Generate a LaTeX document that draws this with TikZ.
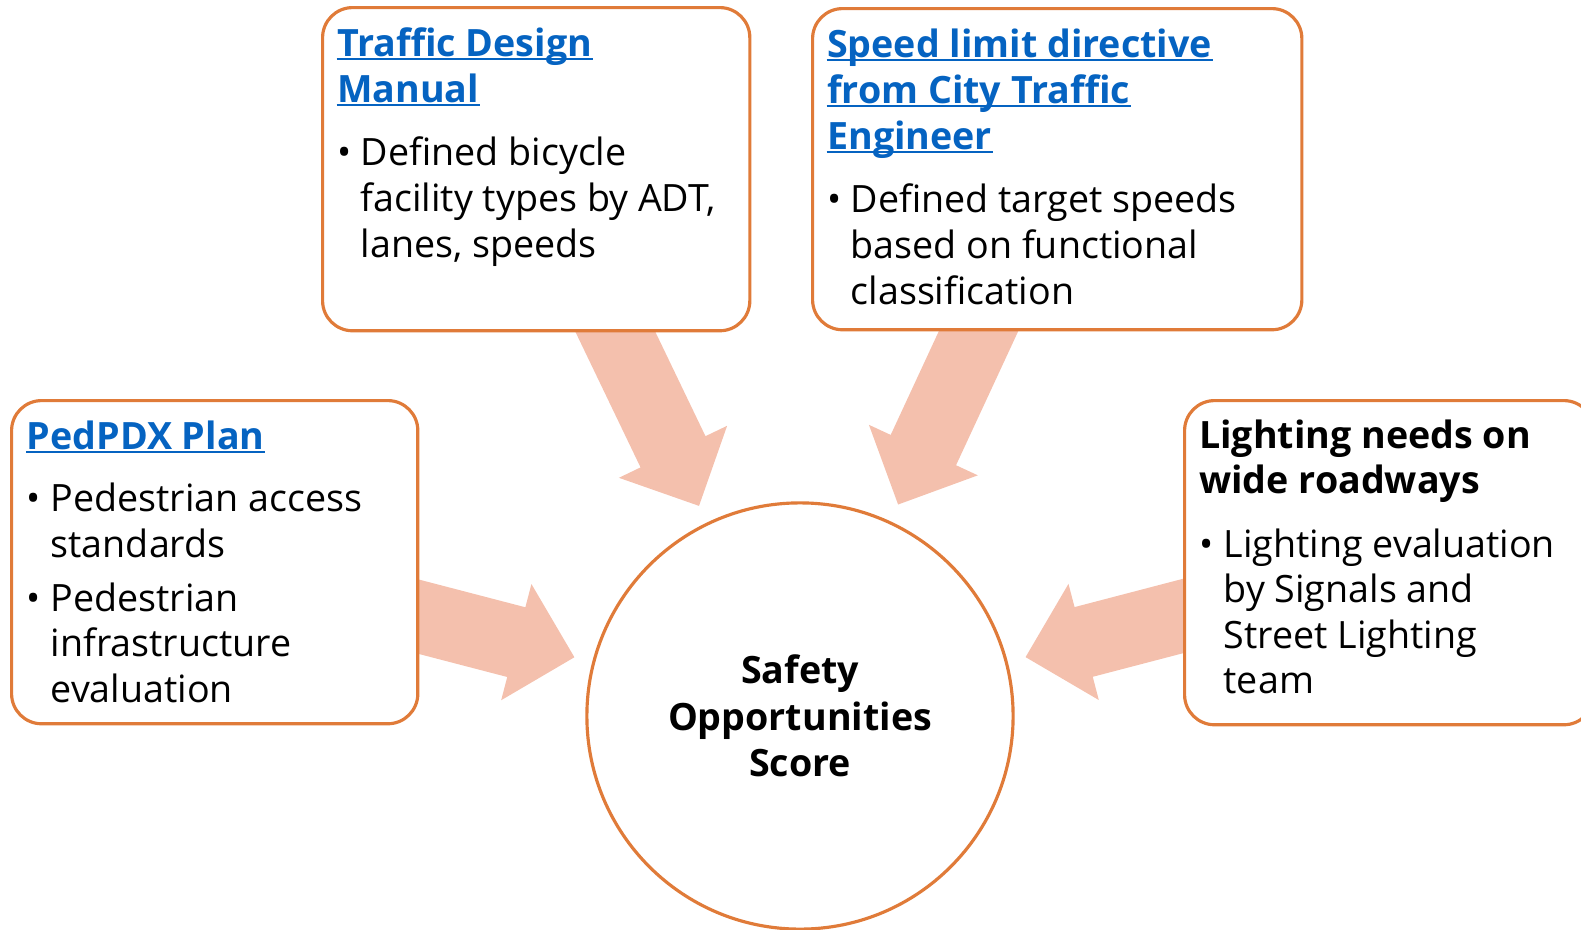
\documentclass[tikz,border=0pt]{standalone}
\usepackage{fontspec}
\setmainfont{Open Sans}
\usetikzlibrary{calc}
\definecolor{boxorange}{HTML}{E07B39}
\definecolor{arrowpink}{HTML}{F4C0AD}
\definecolor{linkblue}{HTML}{0563C1}
% fat arrow: #1 = point on the box edge, #2 = tip
\newcommand{\fatarrow}[2]{%
  \coordinate (tl) at ($(#1)!-0.3cm!(#2)$);
  \coordinate (hd) at ($(#2)!0.6cm!(#1)$);
  \fill[arrowpink] ($(tl)!0.36cm!90:(#2)$) -- ($(hd)!0.36cm!90:(#2)$) -- ($(hd)!0.6cm!90:(#2)$) -- (#2)
    -- ($(hd)!0.6cm!-90:(#2)$) -- ($(hd)!0.36cm!-90:(#2)$) -- ($(tl)!0.36cm!-90:(#2)$) -- cycle;}
\begin{document}
\begin{tikzpicture}[x=0.01cm, y=-0.01cm,
  src/.style={draw=boxorange, line width=0.9pt, fill=white, rounded corners=0.3cm, anchor=north west, inner sep=0pt},
  hubnode/.style={circle, draw=boxorange, line width=0.9pt, fill=white, minimum size=4.26cm, inner sep=0pt, align=center, font=\fontsize{10.7}{13.2}\selectfont\bfseries},
  txt/.style={anchor=base west, inner sep=0pt, font=\fontsize{10.7}{13.2}\selectfont},
  link/.style={txt, font=\fontsize{10.7}{13.2}\selectfont\bfseries, text=linkblue},
  head/.style={txt, font=\fontsize{10.7}{13.2}\selectfont\bfseries}]
\useasboundingbox (0,0) rectangle (1581,930);
% where the arrows leave the boxes
\coordinate (hub) at (800,716);
\coordinate (out-tdm) at (614,329);
\coordinate (out-spd) at (980,328);
\coordinate (out-ped) at (416,616);
\coordinate (out-lit) at (1183,616);
\foreach \s in {tdm,spd,ped,lit}{
  \coordinate (in-\s) at ($(hub)!2.33cm!(out-\s)$);
  \fatarrow{out-\s}{in-\s}
}
% boxes and the score
\node[src, minimum width=4.27cm, minimum height=3.23cm] (tdm) at (321,6) {};
\node[src, minimum width=4.89cm, minimum height=3.21cm] (spd) at (811,7) {};
\node[src, minimum width=4.06cm, minimum height=3.23cm] (ped) at (10,399) {};
\node[src, minimum width=4.09cm, minimum height=3.24cm] (lit) at (1183,399) {};
\node[hubnode] (score) at (hub) {Safety\\Opportunities\\Score};
% Traffic Design Manual
\foreach \t [count=\i from 0] in {Traffic Design, Manual}
  \node[link] (tdm-h\i) at (336.5,56+46*\i) {\t};
\foreach \i in {0,1}
  \draw[linkblue, line width=0.6pt] ([yshift=-0.9pt]tdm-h\i.base west) -- ([yshift=-0.9pt]tdm-h\i.base east);
\node[txt] (tdm-dot) at (337,165) {•};
\foreach \t [count=\i from 0] in {Defined bicycle, {facility types by ADT,}, {lanes, speeds}}
  \node[txt] (tdm-l\i) at (360,165+46*\i) {\t};
% Speed limit directive
\foreach \t [count=\i from 0] in {Speed limit directive, from City Traffic, Engineer}
  \node[link] (spd-h\i) at (826.5,57+46*\i) {\t};
\foreach \i in {0,1,2}
  \draw[linkblue, line width=0.6pt] ([yshift=-0.9pt]spd-h\i.base west) -- ([yshift=-0.9pt]spd-h\i.base east);
\node[txt] (spd-dot) at (827,212) {•};
\foreach \t [count=\i from 0] in {Defined target speeds, based on functional, classification}
  \node[txt] (spd-l\i) at (850,212+46*\i) {\t};
% PedPDX Plan
\node[link] (ped-h0) at (26,449) {PedPDX Plan};
\draw[linkblue, line width=0.6pt] ([yshift=-0.9pt]ped-h0.base west) -- ([yshift=-0.9pt]ped-h0.base east);
\node[txt] (ped-dot1) at (26,511) {•};
\node[txt] (ped-dot2) at (26,611) {•};
\foreach \t [count=\i from 0] in {Pedestrian access, standards}
  \node[txt] (ped-a\i) at (50,511+46*\i) {\t};
\foreach \t [count=\i from 0] in {Pedestrian, infrastructure, evaluation}
  \node[txt] (ped-b\i) at (50,611+45.5*\i) {\t};
% Lighting needs
\foreach \t [count=\i from 0] in {Lighting needs on, wide roadways}
  \node[head] (lit-h\i) at (1198.5,448+45*\i) {\t};
\node[txt] (lit-dot) at (1199,557) {•};
\foreach \t [count=\i from 0] in {Lighting evaluation, by Signals and, Street Lighting, team}
  \node[txt] (lit-l\i) at (1223,557+45.5*\i) {\t};
\end{tikzpicture}
\end{document}
